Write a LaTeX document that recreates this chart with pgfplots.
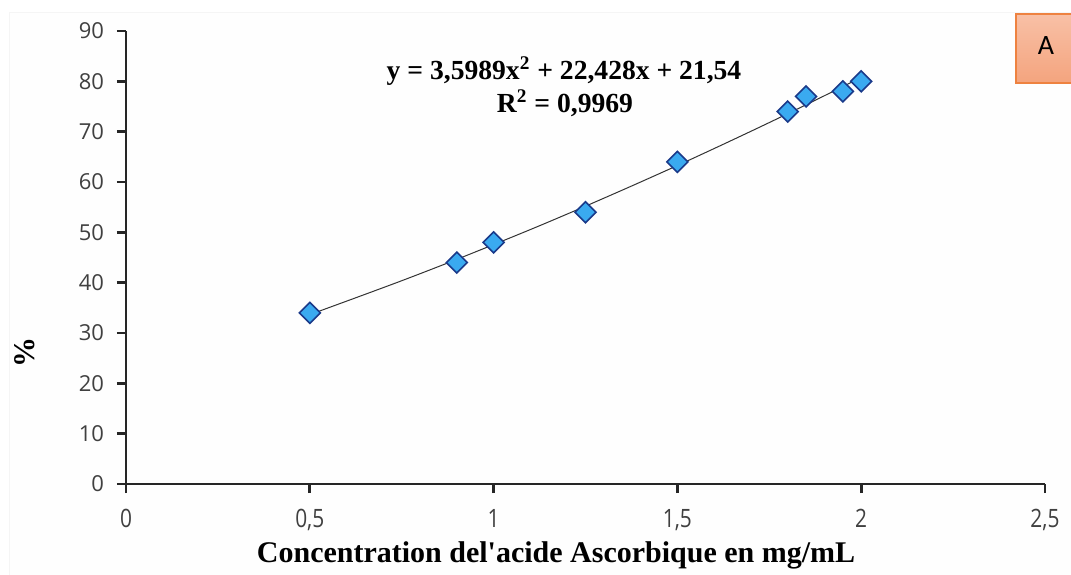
\documentclass[border=0pt]{standalone}
\usepackage{pgfplots}
\pgfplotsset{compat=1.18}
\usepackage{fontspec}
\setmainfont{Liberation Serif}
\newfontfamily\tickfont{Open Sans}
\newfontfamily\calfont{Carlito}
\definecolor{axcol}{HTML}{262626}
\definecolor{tickcol}{HTML}{404040}
\definecolor{mkfill}{HTML}{3AAAF0}
\definecolor{mkdraw}{HTML}{1A3A8A}
\definecolor{boxtop}{HTML}{F8C0A6}
\definecolor{boxbot}{HTML}{F4A47E}
\definecolor{boxdraw}{HTML}{EE8240}
\begin{document}
\begin{tikzpicture}[x=0.5pt,y=0.5pt]
\useasboundingbox (0,0) rectangle (1071,574);
\fill[white] (0,0) rectangle (1071,574);
\draw[gray!8, fill=gray!1] (9,562) rectangle (1080,-30);
\begin{axis}[
  at={(63pt,45pt)}, anchor=south west,
  scale only axis, width=459.5pt, height=226.5pt,
  xmin=0, xmax=2.5, ymin=0, ymax=90,
  axis lines*=left,
  axis line style={axcol, line width=1.4pt},
  tick style={axcol, line width=1.4pt},
  tick align=outside, major tick length=4.5pt,
  xtick={0,0.5,1,1.5,2,2.5},
  xticklabels={0,{0,5},1,{1,5},2,{2,5}},
  ytick={0,10,...,90},
  /pgf/number format/assume math mode=true,
  ticklabel style={font=\tickfont\fontsize{11}{13}\selectfont, text=tickcol},
  xticklabel style={yshift=-4pt, xscale=0.95, yscale=1.15},
  yticklabel style={xshift=-3pt},
  xlabel={\textbf{Concentration del\textquotesingle acide Ascorbique en mg/mL}},
  xlabel style={font=\fontsize{15}{17}\selectfont, at={(axis description cs:0.468,0)}, anchor=center, yshift=-35.5pt, xscale=1.0},
  ylabel={\textbf{\%}},
  ylabel style={font=\fontsize{15}{17}\selectfont, at={(axis description cs:-0.11,0.29)}, anchor=center},
  clip=false,
]
\addplot[color=black!80, line width=0.5pt, smooth, no marks] coordinates {
(0.5,33.654) (0.625,37.0) (0.75,40.385) (0.875,43.91) (1.0,47.567) (1.125,51.31) (1.25,55.198) (1.375,59.19) (1.5,63.280) (1.625,67.50) (1.75,71.811) (1.875,76.24) (2.0,80.792)
};
\addplot[only marks, mark=square*, mark size=3.7pt, mark options={rotate=45, fill=mkfill, draw=mkdraw, line width=0.8pt}] coordinates {
(0.5,34) (0.9,44) (1.0,48) (1.25,54) (1.5,64) (1.8,74) (1.85,77) (1.95,78) (2.0,80)
};
\end{axis}
\node[font=\bfseries\fontsize{13.8}{15}\selectfont] at (564,503) {y = 3,5989x\textsuperscript{2} + 22,428x + 21,54};
\node[font=\bfseries\fontsize{13.8}{15}\selectfont] at (565,471) {R\textsuperscript{2} = 0,9969};
\shade[top color=boxtop, bottom color=boxbot] (1016,560) rectangle (1080,491);
\draw[boxdraw, line width=1pt] (1080,560) -- (1016,560) -- (1016,491) -- (1080,491);
\node[font=\calfont\fontsize{14}{16}\selectfont] at (1046,528) {A};
\end{tikzpicture}
\end{document}
